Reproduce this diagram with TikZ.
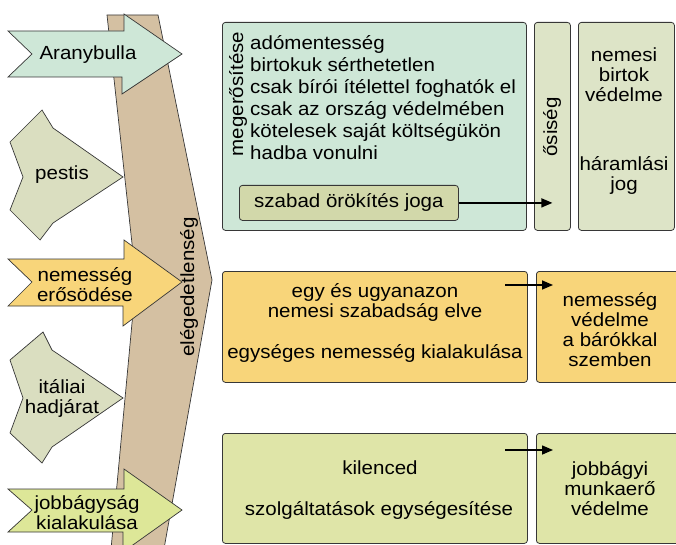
\documentclass[tikz,border=0pt]{standalone}
\usepackage{fontspec}
\setmainfont{Liberation Sans}[FakeStretch=1.08]
\usetikzlibrary{arrows.meta,calc}
\tikzset{>=Latex}
\definecolor{mint}{RGB}{206,231,215}
\definecolor{sage}{RGB}{221,228,199}
\definecolor{olivebox}{RGB}{210,216,170}
\definecolor{gold}{RGB}{248,213,122}
\definecolor{lime}{RGB}{223,229,168}
\definecolor{limearrow}{RGB}{221,231,152}
\definecolor{graygreen}{RGB}{218,222,192}
\definecolor{tan}{RGB}{212,192,162}
\definecolor{edge}{RGB}{55,55,55}
\newcommand{\diafont}{\fontsize{19}{20}\selectfont}
\newcommand{\listfont}{\fontsize{19}{22}\selectfont}
\tikzset{
  panel/.style={draw=edge, line width=0.8pt, rounded corners=3pt, anchor=north west, inner sep=0pt},
  band/.style={draw=edge, line width=0.7pt, line join=miter},
  flow/.style={-{Triangle[length=11pt,width=9pt]}, line width=1.5pt},
  lbl/.style={align=center, inner sep=0pt},
}

\begin{document}
\begin{tikzpicture}[x=1pt, y=-1pt, font=\diafont]
    \useasboundingbox (0,0) rectangle (676,545);
    \clip (0,0) rectangle (676,545);

    % the bent band
    \draw[band, fill=tan] (107,15) -- (158,15) -- (212,280) -- (162,560) -- (110,560) -- (136,280) -- cycle;
    \node[lbl, rotate=90] (eleg) at (189,287) {elégedetlenség};

    % causes on the left
    \draw[band, fill=mint] (8,31) -- (124,31) -- (124,14) -- (182,54) -- (122,94) -- (122,77) -- (8,77) -- (32,54) -- cycle;
    \node[lbl] (arany) at (88,55) {Aranybulla};
    \draw[band, fill=graygreen] (10,142) -- (42,110) -- (53,128) -- (123,177) -- (53,223) -- (40,240) -- (10,210) -- (23,177) -- cycle;
    \node[lbl] (pestis) at (62,175) {pestis};
    \draw[band, fill=gold] (8,259) -- (124,259) -- (124,240) -- (182,282) -- (123,326) -- (123,306) -- (8,306) -- (32,282) -- cycle;
    \node[lbl] (erosod) at (85,285) {nemesség\\erősödése};
    \draw[band, fill=graygreen] (10,360) -- (43,332) -- (52,350) -- (123,398) -- (52,447) -- (42,463) -- (10,433) -- (23,398) -- cycle;
    \node[lbl] (italia) at (62,398) {itáliai\\hadjárat};
    \draw[band, fill=limearrow] (8,489) -- (124,489) -- (124,469) -- (182,510) -- (123,552) -- (123,532) -- (8,532) -- (32,510) -- cycle;
    \node[lbl] (jobbagy) at (87,513) {jobbágyság\\kialakulása};

    % top row
    \node[panel, fill=mint, minimum width=304pt, minimum height=208pt] (megbox) at (222,22) {};
    \node[lbl, rotate=90] (meg) at (238,94) {megerősítése};
    \node[anchor=west, align=left, inner sep=0pt, font=\listfont] (jogok) at (250,98)
    {adómentesség\\birtokuk sérthetetlen\\csak bírói ítélettel foghatók el\\csak az ország védelmében\\kötelesek saját költségükön\\hadba vonulni};
    \node[panel, fill=olivebox, minimum width=219pt, minimum height=35pt] (szabad) at (239,185) {szabad örökítés joga};
    \node[panel, fill=sage, minimum width=36pt, minimum height=208pt] (osiseg) at (534,22) {};
    \node[lbl, rotate=90] (osi) at (552,127) {ősiség};
    \node[panel, fill=sage, minimum width=96pt, minimum height=208pt] (birtokbox) at (578,22) {};
    \node[lbl] (birtok) at (624,75) {nemesi\\birtok\\védelme};
    \node[lbl] (haram) at (624,175) {háramlási\\jog};

    % middle row
    \node[panel, fill=gold, minimum width=305pt, minimum height=111pt] (egybox) at (222,271) {};
    \node[lbl] (egy) at (375,302) {egy és ugyanazon\\nemesi szabadság elve};
    \node[lbl] (egyseg) at (375,353) {egységes nemesség kialakulása};
    \node[panel, fill=gold, minimum width=150pt, minimum height=111pt] (barobox) at (536,271) {};
    \node[lbl] (baro) at (610,330) {nemesség\\védelme\\a bárókkal\\szemben};

    % bottom row
    \node[panel, fill=lime, minimum width=305pt, minimum height=110pt] (kilbox) at (222,433) {};
    \node[lbl] (kil) at (380,468) {kilenced};
    \node[lbl] (szolg) at (379,510) {szolgáltatások egységesítése};
    \node[panel, fill=lime, minimum width=150pt, minimum height=110pt] (munkabox) at (536,433) {};
    \node[lbl] (munka) at (610,489) {jobbágyi\\munkaerő\\védelme};

    % consequences
    \coordinate (egys) at (505,285);
    \coordinate (egye) at (553,285);
    \coordinate (kils) at (505,450);
    \coordinate (kile) at (553,450);
    \draw[flow] (szabad.east) -- (szabad.east -| osiseg.center);
    \draw[flow] (egys) -- (egye);
    \draw[flow] (kils) -- (kile);
\end{tikzpicture}
\end{document}
